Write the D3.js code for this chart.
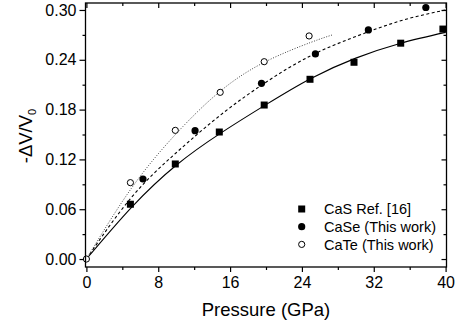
<!DOCTYPE html>
<html>
<head>
<meta charset="utf-8">
<script src="https://cdn.jsdelivr.net/npm/d3@7"></script>
<style>
  body { margin: 0; background: #fff; }
  text { font-family: Arial, "Liberation Sans", sans-serif; fill: #000; }
</style>
</head>
<body>
<div id="chart"></div>
<script>
const casP = [4.9, 9.9, 14.8, 19.8, 24.9, 29.8, 35.0, 39.7];
const casV = [0.066, 0.1145, 0.153, 0.1855, 0.2165, 0.237, 0.260, 0.277];
const caseP = [6.3, 12.1, 19.5, 25.5, 31.4, 37.8];
const caseV = [0.0964, 0.1546, 0.2117, 0.247, 0.276, 0.303];
const cateP = [0, 4.9, 9.9, 14.9, 19.8, 24.8];
const cateV = [0, 0.092, 0.155, 0.2008, 0.2377, 0.2687];

//fitted curves, sampled off the figure
const casFitP = [0, 5, 10, 15, 20, 25, 30, 35, 40];
const casFitV = [0, 0.062, 0.113, 0.152, 0.186, 0.2175, 0.242, 0.260, 0.273];
const caseFitP = [0, 5, 10, 15, 20, 25, 30, 35, 40];
const caseFitV = [0, 0.074, 0.128, 0.174, 0.213, 0.245, 0.268, 0.287, 0.300];
const cateFitP = [0, 5, 10, 15, 20, 25, 27.4];
const cateFitV = [0, 0.085, 0.151, 0.203, 0.238, 0.261, 0.270];

//ticks and legend text
const xTicks = [0, 8, 16, 24, 32, 40];
const xMinor = [4, 12, 20, 28, 36];
const yTicks = [0, 0.06, 0.12, 0.18, 0.24, 0.30];
const yMinor = [0.03, 0.09, 0.15, 0.21, 0.27];
const legendLabels = ['CaS Ref. [16]', 'CaSe (This work)', 'CaTe (This work)'];

const W = 458, H = 327;
const margin = { top: 3, left: 85.5, right: 11.5, bottom: 60 };
const width = W - margin.left - margin.right;
const height = H - margin.top - margin.bottom;

const svg = d3.select('#chart').append('svg')
    .attr('width', W).attr('height', H);
const g = svg.append('g')
    .attr('transform', `translate(${margin.left},${margin.top})`);

const x = d3.scaleLinear().domain([-0.1, 40.1]).range([0, width]);
const y = d3.scaleLinear().domain([-0.0096, 0.3084]).range([height, 0]);

//axes: outward ticks bottom/left, inward mirrored top/right
function styleAxis(sel) {
    sel.select('.domain').remove();
    sel.selectAll('line').attr('stroke', '#000').attr('stroke-width', 1.2);
}
const fmtY = d3.format('.2f');

g.append('g').attr('transform', `translate(0,${height})`)
    .call(d3.axisBottom(x).tickValues(xTicks).tickSize(5).tickPadding(5).tickFormat(d3.format('d')))
    .call(styleAxis)
    .selectAll('text').style('font-size', '16px').style('font-family', 'Arial, "Liberation Sans", sans-serif');
g.append('g').attr('transform', `translate(0,${height})`)
    .call(d3.axisBottom(x).tickValues(xMinor).tickSize(3).tickFormat(''))
    .call(styleAxis);
g.append('g')
    .call(d3.axisLeft(y).tickValues(yTicks).tickSize(6).tickPadding(3).tickFormat(fmtY))
    .call(styleAxis)
    .selectAll('text').style('font-size', '16px').style('font-family', 'Arial, "Liberation Sans", sans-serif');
g.append('g')
    .call(d3.axisLeft(y).tickValues(yMinor).tickSize(3).tickFormat(''))
    .call(styleAxis);
g.append('g')
    .call(d3.axisTop(x).tickValues(xTicks).tickSize(-5).tickFormat(''))
    .call(styleAxis);
g.append('g')
    .call(d3.axisTop(x).tickValues(xMinor).tickSize(-3).tickFormat(''))
    .call(styleAxis);
g.append('g').attr('transform', `translate(${width},0)`)
    .call(d3.axisRight(y).tickValues(yTicks).tickSize(-5).tickFormat(''))
    .call(styleAxis);
g.append('g').attr('transform', `translate(${width},0)`)
    .call(d3.axisRight(y).tickValues(yMinor).tickSize(-3).tickFormat(''))
    .call(styleAxis);

//fit curves
const line = d3.line().x(d => x(d[0])).y(d => y(d[1])).curve(d3.curveNatural);
const zip = (a, b) => a.map((v, i) => [v, b[i]]);

g.append('path').attr('d', line(zip(casFitP, casFitV)))
    .attr('fill', 'none').attr('stroke', '#000').attr('stroke-width', 1.1);
g.append('path').attr('d', line(zip(caseFitP, caseFitV)))
    .attr('fill', 'none').attr('stroke', '#000').attr('stroke-width', 1.1)
    .attr('stroke-dasharray', '3,2.5');
g.append('path').attr('d', line(zip(cateFitP, cateFitV)))
    .attr('fill', 'none').attr('stroke', '#444').attr('stroke-width', 1)
    .attr('stroke-dasharray', '1,1.6');

//markers
const sq = 7, rad = 3.6;
g.selectAll('.cas').data(zip(casP, casV)).enter().append('rect')
    .attr('x', d => x(d[0]) - sq / 2).attr('y', d => y(d[1]) - sq / 2)
    .attr('width', sq).attr('height', sq).attr('fill', '#000');
g.selectAll('.case').data(zip(caseP, caseV)).enter().append('circle')
    .attr('cx', d => x(d[0])).attr('cy', d => y(d[1])).attr('r', rad).attr('fill', '#000');
g.selectAll('.cate').data(zip(cateP, cateV)).enter().append('circle')
    .attr('cx', d => x(d[0])).attr('cy', d => y(d[1])).attr('r', rad - 0.5)
    .attr('fill', '#fff').attr('stroke', '#000').attr('stroke-width', 1);

//frame
g.append('rect').attr('width', width).attr('height', height)
    .attr('fill', 'none').attr('stroke', '#000').attr('stroke-width', 1.3);

//legend
const leg = g.append('g').attr('transform', `translate(${301.7 - margin.left},${209 - margin.top})`);
legendLabels.forEach((lab, i) => {
    const row = leg.append('g').attr('transform', `translate(0,${i * 17.7})`);
    if (i === 0) row.append('rect').attr('x', -sq / 2).attr('y', -sq / 2).attr('width', sq).attr('height', sq).attr('fill', '#000');
    if (i === 1) row.append('circle').attr('r', rad).attr('fill', '#000');
    if (i === 2) row.append('circle').attr('r', rad - 0.5).attr('fill', '#fff').attr('stroke', '#000');
    row.append('text').attr('x', 22.3).attr('dy', '0.36em')
        .style('font-size', '14.5px').text(lab);
});

//axis titles
svg.append('text').attr('x', margin.left + width / 2).attr('y', 316)
    .attr('text-anchor', 'middle').style('font-size', '18.5px').text('Pressure (GPa)');
const yt = svg.append('text').attr('transform', 'translate(31.7,136) rotate(-90)')
    .attr('text-anchor', 'middle').style('font-size', '18.5px');
yt.append('tspan').text('-ΔV/V');
yt.append('tspan').attr('dy', 4).style('font-size', '11px').text('0');
</script>
</body>
</html>
